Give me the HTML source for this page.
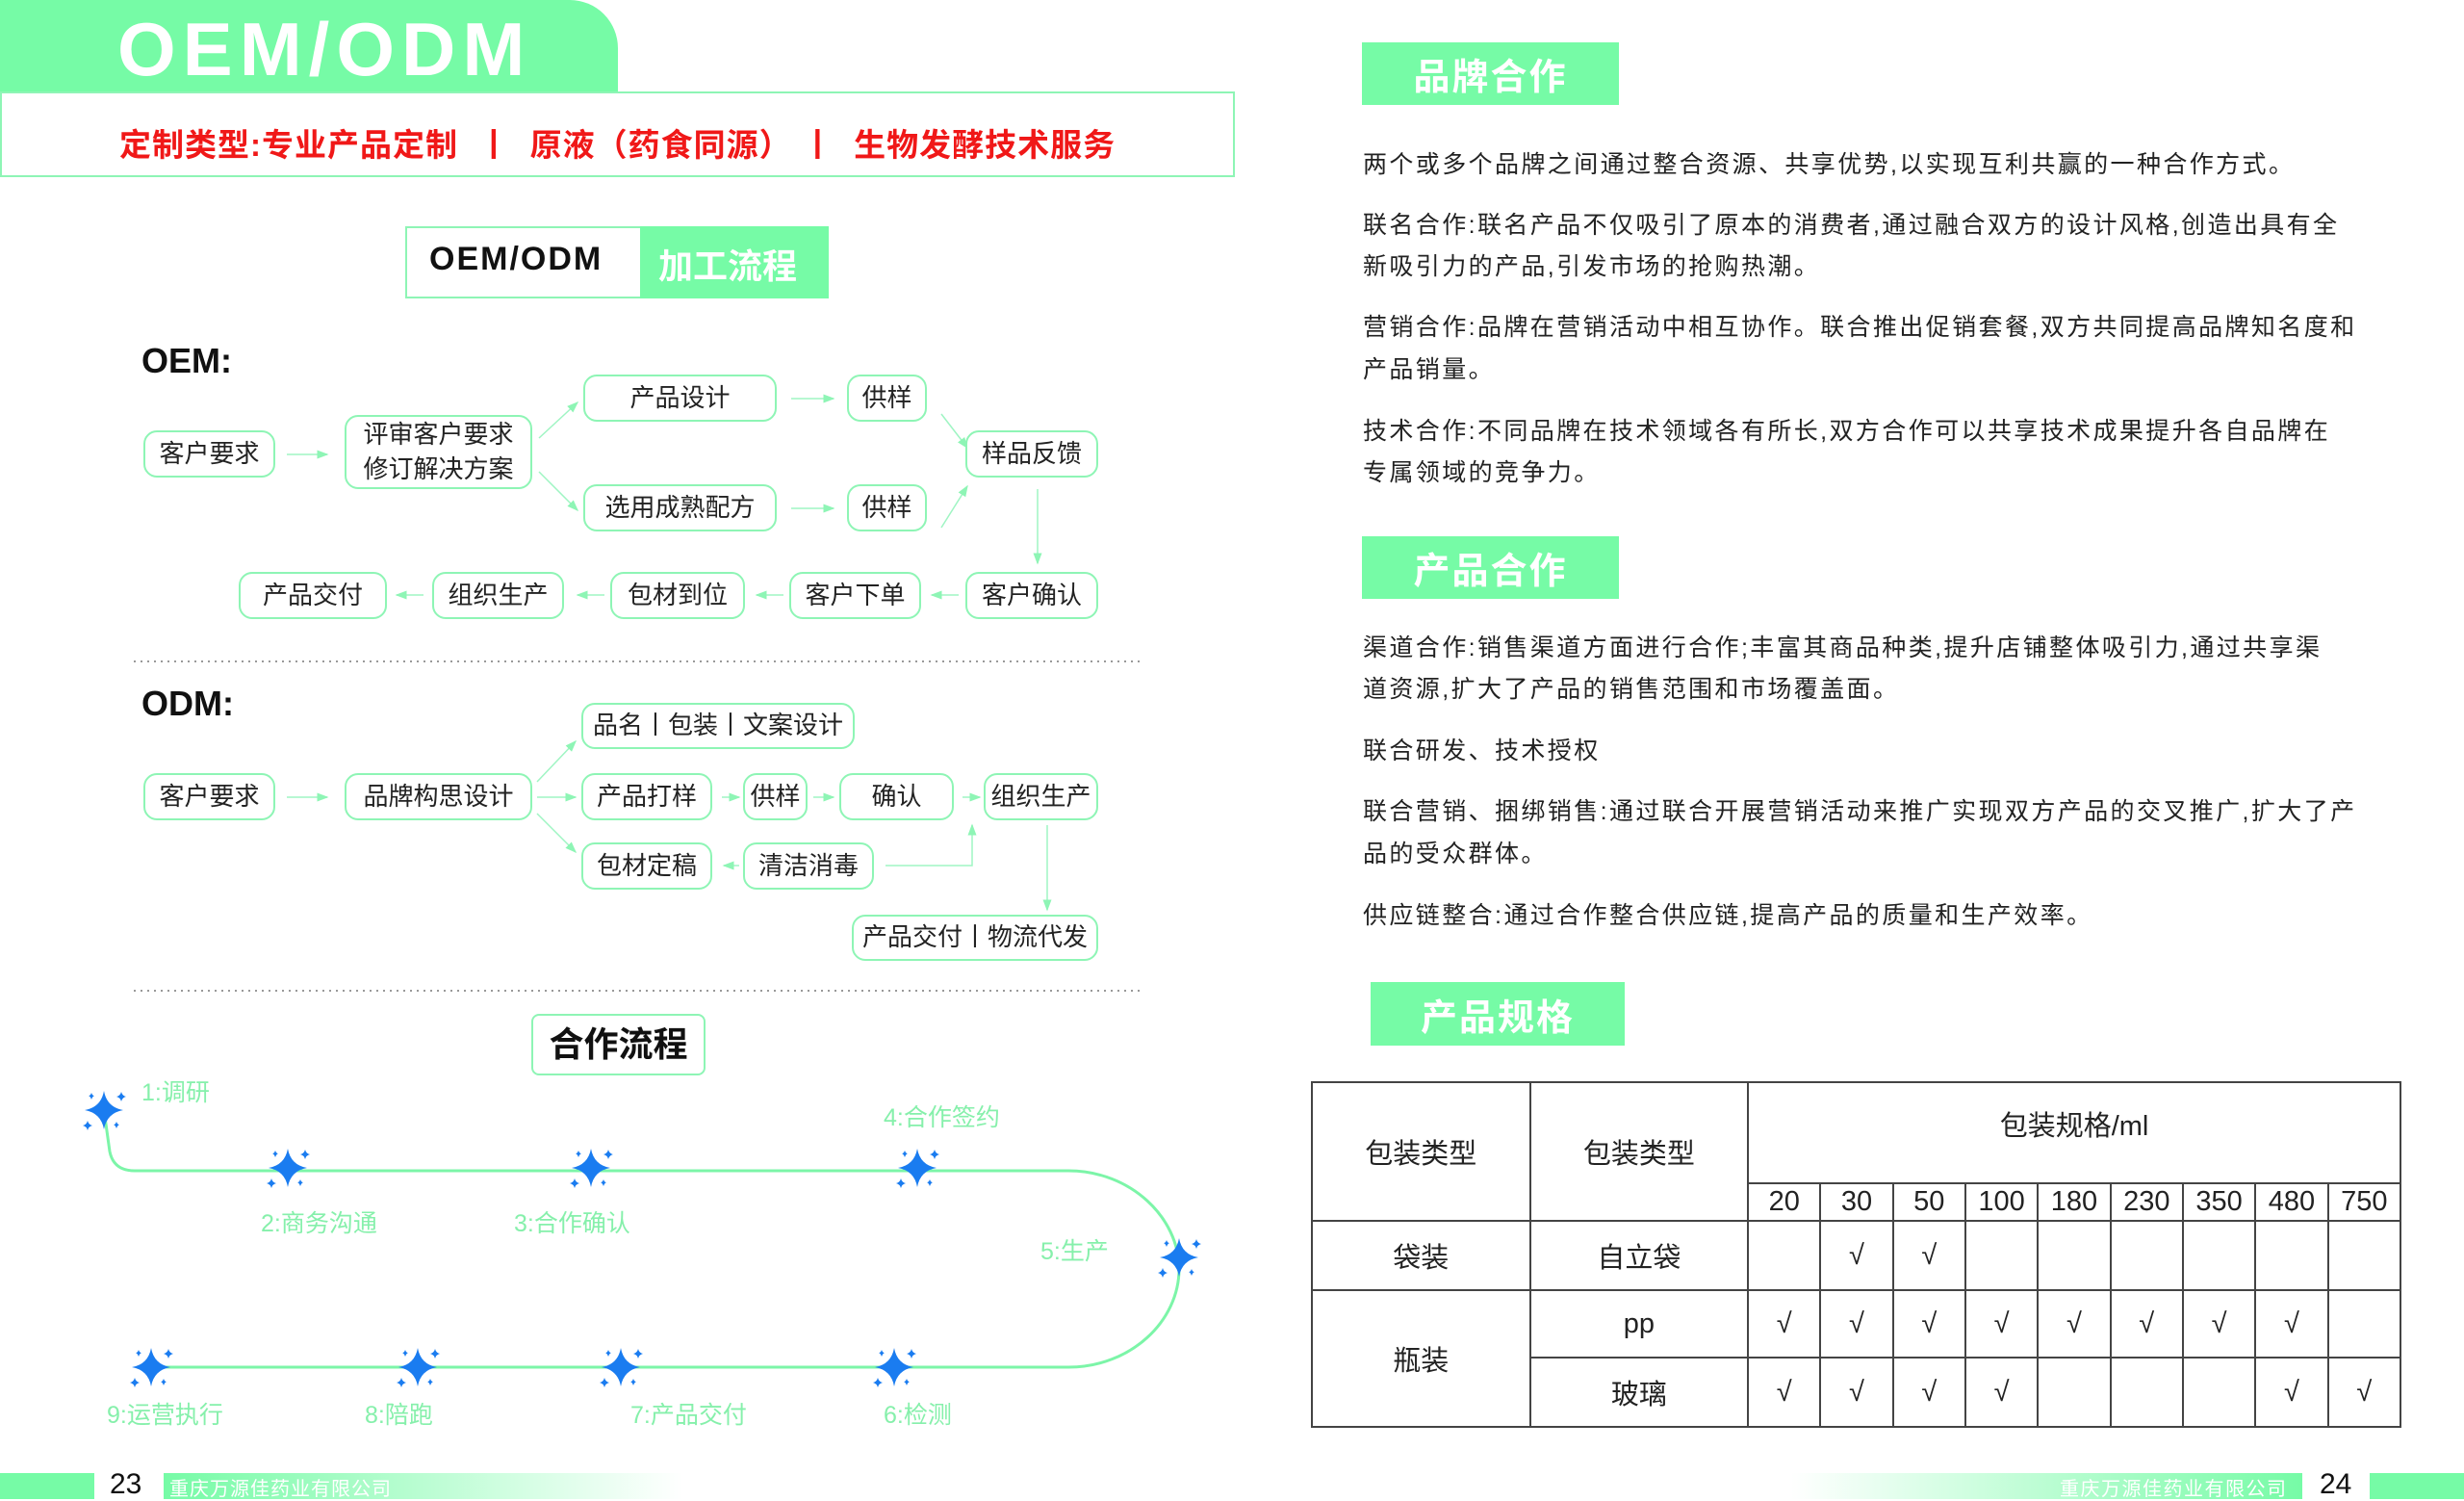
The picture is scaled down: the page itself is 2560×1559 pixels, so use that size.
<!DOCTYPE html>
<html><head><meta charset="utf-8">
<style>
*{margin:0;padding:0;box-sizing:border-box}
body{width:2560px;height:1557px;background:#fff;position:relative;overflow:hidden;font-family:"Liberation Sans","Noto Sans CJK SC",sans-serif;color:#222}
.a{position:absolute}
.n{position:absolute;border:2px solid #8ef5b5;border-radius:14px;display:flex;align-items:center;justify-content:center;font-size:26px;color:#222;background:#fff;text-align:center;line-height:1.35;white-space:nowrap}
.g{background:#76fba6}
.p{position:absolute;left:1416px;font-size:25px;letter-spacing:2.4px;white-space:nowrap;color:#222}
.hd{position:absolute;background:#76fba6;color:#fff;font-size:38px;font-weight:bold;display:flex;align-items:center;justify-content:center;letter-spacing:2px}
.lb{position:absolute;color:#86f0ab;font-size:25px;white-space:nowrap;transform:translateY(-50%)}
td{border:2px solid #444;text-align:center;font-size:29px;color:#222}
</style></head><body>
<!-- header -->
<div class="a g" style="left:0;top:0;width:642px;height:96px;border-top-right-radius:50px"></div>
<div class="a" style="left:122px;top:6px;font-size:78px;font-weight:bold;color:#fff;letter-spacing:7px">OEM/ODM</div>
<div class="a" style="left:0;top:95px;width:1283px;height:89px;border:2px solid #8ef5b5"></div>
<div class="a" style="left:124px;top:124px;font-size:33px;font-weight:bold;color:#f01818;white-space:nowrap;letter-spacing:1px">定制类型:专业产品定制 &nbsp;丨 &nbsp;原液（药食同源） 丨 &nbsp;生物发酵技术服务</div>
<div class="a" style="left:421px;top:235px;width:440px;height:75px;border:2px solid #8ef5b5"></div>
<div class="a g" style="left:665px;top:235px;width:196px;height:75px"></div>
<div class="a" style="left:446px;top:250px;font-size:34px;font-weight:bold;color:#111;letter-spacing:2px">OEM/ODM</div>
<div class="a" style="left:684px;top:248px;font-size:36px;font-weight:bold;color:#fff">加工流程</div>
<div class="a" style="left:147px;top:354px;font-size:36px;font-weight:bold;color:#111">OEM:</div>
<div class="a" style="left:147px;top:710px;font-size:36px;font-weight:bold;color:#111">ODM:</div>

<svg class="a" style="left:0;top:0" width="2560" height="1557">
<defs><marker id="ar" markerWidth="8" markerHeight="8" refX="7" refY="4" orient="auto"><path d="M0,1 L8,4 L0,7z" fill="#8ef5b5"/></marker>
<g id="st" fill="#1a7cf0"><path d="M0,-20 Q3,-3 20,0 Q3,3 0,20 Q-3,3 -20,0 Q-3,-3 0,-20z"/><path d="M18,-19 Q19,-15 23,-14 Q19,-13 18,-9 Q17,-13 13,-14 Q17,-15 18,-19z"/><path d="M-17,11 Q-16,15 -12,16 Q-16,17 -17,21 Q-18,17 -22,16 Q-18,15 -17,11z"/><path d="M13,12 Q14,15 16,15 Q14,16 13,19 Q12,16 10,15 Q12,15 13,12z"/><path d="M-13,-18 Q-12,-15 -10,-15 Q-12,-14 -13,-11 Q-14,-14 -16,-15 Q-14,-15 -13,-18z"/></g></defs>
<g stroke="#9ff5c3" stroke-width="1.5" fill="none" marker-end="url(#ar)">
<line x1="298" y1="472" x2="340" y2="472"/>
<line x1="560" y1="455" x2="600" y2="418"/>
<line x1="560" y1="490" x2="600" y2="530"/>
<line x1="822" y1="414" x2="866" y2="414"/>
<line x1="822" y1="528" x2="866" y2="528"/>
<line x1="978" y1="430" x2="1005" y2="465"/>
<line x1="978" y1="548" x2="1005" y2="505"/>
<line x1="1078" y1="508" x2="1078" y2="585"/>
<line x1="996" y1="618" x2="968" y2="618"/>
<line x1="814" y1="618" x2="786" y2="618"/>
<line x1="628" y1="618" x2="600" y2="618"/>
<line x1="440" y1="618" x2="412" y2="618"/>
<line x1="298" y1="828" x2="340" y2="828"/>
<line x1="558" y1="812" x2="598" y2="770"/>
<line x1="558" y1="828" x2="598" y2="828"/>
<line x1="558" y1="845" x2="598" y2="885"/>
<line x1="750" y1="828" x2="768" y2="828"/>
<line x1="845" y1="828" x2="866" y2="828"/>
<line x1="1000" y1="828" x2="1018" y2="828"/>
<line x1="768" y1="899" x2="752" y2="899"/>
<polyline points="920,899 1010,899 1010,857"/>
<line x1="1088" y1="857" x2="1088" y2="945"/>
</g>
<line x1="139" y1="687" x2="1185" y2="687" stroke="#999" stroke-width="2" stroke-dasharray="2,5"/>
<line x1="139" y1="1029" x2="1185" y2="1029" stroke="#999" stroke-width="2" stroke-dasharray="2,5"/>
<path d="M108,1153 L114,1196 Q118,1216 140,1216 L1110,1216 C1175,1216 1225,1265 1225,1318 C1225,1372 1175,1420 1110,1420 L150,1420" stroke="#7cf5a8" stroke-width="3" fill="none"/>
<use href="#st" x="108" y="1153"/><use href="#st" x="299" y="1213"/><use href="#st" x="614" y="1213"/><use href="#st" x="953" y="1213"/><use href="#st" x="1225" y="1306"/><use href="#st" x="929" y="1420"/><use href="#st" x="645" y="1420"/><use href="#st" x="434" y="1420"/><use href="#st" x="157" y="1420"/>
</svg>

<!-- OEM nodes -->
<div class="n" style="left:149px;top:447px;width:137px;height:49px">客户要求</div>
<div class="n" style="left:358px;top:431px;width:195px;height:77px">评审客户要求<br>修订解决方案</div>
<div class="n" style="left:606px;top:389px;width:201px;height:49px">产品设计</div>
<div class="n" style="left:880px;top:389px;width:83px;height:49px">供样</div>
<div class="n" style="left:1003px;top:447px;width:138px;height:49px">样品反馈</div>
<div class="n" style="left:606px;top:503px;width:201px;height:49px">选用成熟配方</div>
<div class="n" style="left:880px;top:503px;width:83px;height:49px">供样</div>
<div class="n" style="left:248px;top:594px;width:154px;height:49px">产品交付</div>
<div class="n" style="left:449px;top:594px;width:137px;height:49px">组织生产</div>
<div class="n" style="left:634px;top:594px;width:140px;height:49px">包材到位</div>
<div class="n" style="left:820px;top:594px;width:137px;height:49px">客户下单</div>
<div class="n" style="left:1003px;top:594px;width:138px;height:49px">客户确认</div>
<!-- ODM nodes -->
<div class="n" style="left:149px;top:803px;width:137px;height:49px">客户要求</div>
<div class="n" style="left:358px;top:803px;width:195px;height:49px">品牌构思设计</div>
<div class="n" style="left:604px;top:730px;width:284px;height:48px">品名丨包装丨文案设计</div>
<div class="n" style="left:604px;top:803px;width:136px;height:49px">产品打样</div>
<div class="n" style="left:772px;top:803px;width:67px;height:49px">供样</div>
<div class="n" style="left:872px;top:803px;width:119px;height:49px">确认</div>
<div class="n" style="left:1022px;top:803px;width:119px;height:49px">组织生产</div>
<div class="n" style="left:604px;top:875px;width:136px;height:49px">包材定稿</div>
<div class="n" style="left:772px;top:875px;width:136px;height:49px">清洁消毒</div>
<div class="n" style="left:885px;top:950px;width:256px;height:48px">产品交付丨物流代发</div>
<!-- 合作流程 -->
<div class="n" style="left:552px;top:1053px;width:181px;height:64px;font-size:36px;font-weight:bold;border-radius:8px;color:#111">合作流程</div>
<div class="lb" style="left:147px;top:1133px">1:调研</div>
<div class="lb" style="left:271px;top:1269px">2:商务沟通</div>
<div class="lb" style="left:534px;top:1269px">3:合作确认</div>
<div class="lb" style="left:918px;top:1159px">4:合作签约</div>
<div class="lb" style="left:1081px;top:1298px">5:生产</div>
<div class="lb" style="left:111px;top:1468px">9:运营执行</div>
<div class="lb" style="left:379px;top:1468px">8:陪跑</div>
<div class="lb" style="left:655px;top:1468px">7:产品交付</div>
<div class="lb" style="left:918px;top:1468px">6:检测</div>
<!-- footer -->
<div class="a g" style="left:0;top:1530px;width:98px;height:27px"></div>
<div class="a" style="left:114px;top:1525px;font-size:30px;color:#111">23</div>
<div class="a" style="left:170px;top:1530px;width:540px;height:27px;background:linear-gradient(90deg,#76fba6,#fff)"></div>
<div class="a" style="left:176px;top:1530px;font-size:20px;color:#fff;letter-spacing:1px">重庆万源佳药业有限公司</div>
<div class="a" style="left:1861px;top:1530px;width:531px;height:27px;background:linear-gradient(90deg,#fff,#76fba6)"></div>
<div class="a" style="left:2140px;top:1530px;font-size:20px;color:#fff;letter-spacing:1.5px">重庆万源佳药业有限公司</div>
<div class="a" style="left:2410px;top:1525px;font-size:30px;color:#111">24</div>
<div class="a g" style="left:2462px;top:1530px;width:98px;height:27px"></div>

<!-- right page -->
<div class="hd" style="left:1415px;top:44px;width:267px;height:65px">品牌合作</div>
<div class="p" style="top:151px">两个或多个品牌之间通过整合资源、共享优势,以实现互利共赢的一种合作方式。</div>
<div class="p" style="top:214px">联名合作:联名产品不仅吸引了原本的消费者,通过融合双方的设计风格,创造出具有全</div>
<div class="p" style="top:257px">新吸引力的产品,引发市场的抢购热潮。</div>
<div class="p" style="top:320px">营销合作:品牌在营销活动中相互协作。联合推出促销套餐,双方共同提高品牌知名度和</div>
<div class="p" style="top:364px">产品销量。</div>
<div class="p" style="top:428px">技术合作:不同品牌在技术领域各有所长,双方合作可以共享技术成果提升各自品牌在</div>
<div class="p" style="top:471px">专属领域的竞争力。</div>
<div class="hd" style="left:1415px;top:557px;width:267px;height:65px">产品合作</div>
<div class="p" style="top:653px">渠道合作:销售渠道方面进行合作;丰富其商品种类,提升店铺整体吸引力,通过共享渠</div>
<div class="p" style="top:696px">道资源,扩大了产品的销售范围和市场覆盖面。</div>
<div class="p" style="top:760px">联合研发、技术授权</div>
<div class="p" style="top:823px">联合营销、捆绑销售:通过联合开展营销活动来推广实现双方产品的交叉推广,扩大了产</div>
<div class="p" style="top:867px">品的受众群体。</div>
<div class="p" style="top:931px">供应链整合:通过合作整合供应链,提高产品的质量和生产效率。</div>
<div class="hd" style="left:1424px;top:1020px;width:264px;height:66px">产品规格</div>
<table class="a" style="left:1362px;top:1123px;width:1133px;height:358px;border-collapse:collapse">
<colgroup><col style="width:227px"><col style="width:227px"><col span="9" style="width:75.4px"></colgroup>
<tr style="height:105px"><td rowspan="2">包装类型</td><td rowspan="2">包装类型</td><td colspan="9" style="vertical-align:middle;padding-bottom:20px">包装规格/ml</td></tr>
<tr style="height:39px"><td>20</td><td>30</td><td>50</td><td>100</td><td>180</td><td>230</td><td>350</td><td>480</td><td>750</td></tr>
<tr style="height:72px"><td>袋装</td><td>自立袋</td><td></td><td>√</td><td>√</td><td></td><td></td><td></td><td></td><td></td><td></td></tr>
<tr style="height:70px"><td rowspan="2">瓶装</td><td>pp</td><td>√</td><td>√</td><td>√</td><td>√</td><td>√</td><td>√</td><td>√</td><td>√</td><td></td></tr>
<tr style="height:72px"><td>玻璃</td><td>√</td><td>√</td><td>√</td><td>√</td><td></td><td></td><td></td><td>√</td><td>√</td></tr>
</table>
</body></html>
